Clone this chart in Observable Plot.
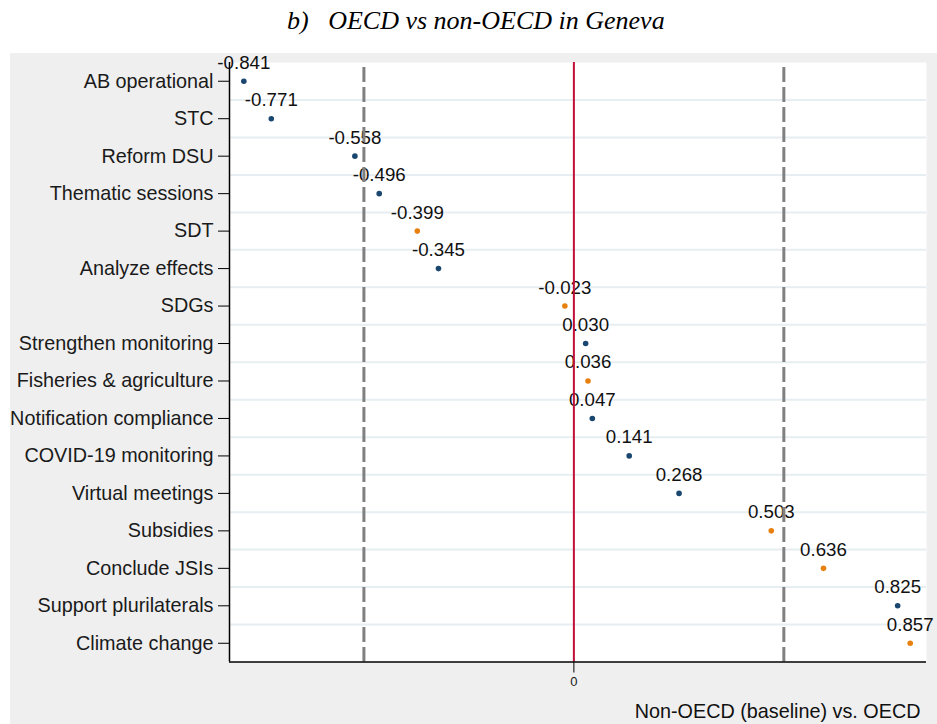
<!DOCTYPE html>
<html>
<head>
<meta charset="utf-8">
<script src="https://cdn.jsdelivr.net/npm/d3@7"></script>
<script src="https://cdn.jsdelivr.net/npm/@observablehq/plot@0.6"></script>
<style>
  html, body { margin: 0; padding: 0; background: #ffffff; }
  #wrap { position: relative; width: 937px; height: 724px; overflow: hidden; }
  #title { position: absolute; left: 287px; top: 8px; font-family: "Liberation Serif", "Times New Roman", serif; font-style: italic; font-size: 26px; line-height: 26px; white-space: pre; color: #000; }
  #chart { position: absolute; left: 10px; top: 53px; }
</style>
</head>
<body>
<div id="wrap">
  <div id="title">b)   OECD vs non-OECD in Geneva</div>
  <div id="chart"></div>
</div>
<script>
const categories = [
  "AB operational", "STC", "Reform DSU", "Thematic sessions", "SDT",
  "Analyze effects", "SDGs", "Strengthen monitoring", "Fisheries & agriculture",
  "Notification compliance", "COVID-19 monitoring", "Virtual meetings",
  "Subsidies", "Conclude JSIs", "Support plurilaterals", "Climate change"
];
const values = [-0.841, -0.771, -0.558, -0.496, -0.399, -0.345, -0.023, 0.030,
  0.036, 0.047, 0.141, 0.268, 0.503, 0.636, 0.825, 0.857];
const groups = ["A", "A", "A", "A", "B", "A", "B", "A", "B", "A", "A", "A", "B", "B", "A", "B"];
const thresholds = [-0.535, 0.535];
const zeroLine = [0];
const xTicks = [0];
const xTitle = "Non-OECD (baseline) vs. OECD";

const rows = categories.map((c, i) => ({cat: c, idx: i, value: values[i], group: groups[i]}));
const xMin = -0.8775, xMax = 0.8985;
const yMin = -0.5, yMax = categories.length - 0.5;
const gridPos = d3.range(0.5, categories.length - 1, 1);
const fmt = v => v.toFixed(3);

const chart = Plot.plot({
  width: 927,
  height: 671,
  marginLeft: 219,
  marginRight: 11,
  marginTop: 9,
  marginBottom: 62.5,
  style: {
    fontFamily: "'Liberation Sans', Arial, sans-serif",
    background: "#efefef",
    color: "#1a1a1a",
    overflow: "visible"
  },
  x: {domain: [xMin, xMax]},
  y: {domain: [yMin, yMax], reverse: true},
  color: {domain: ["A", "B"], range: ["#1a476f", "#e8800f"]},
  marks: [
    Plot.frame({fill: "white", stroke: "none"}),
    Plot.ruleY(gridPos, {stroke: "#e7eef1", strokeWidth: 2}),
    Plot.axisY(d3.range(categories.length), {
      tickFormat: i => categories[i], tickSize: 11, tickPadding: 5,
      fontSize: 19.8, label: null, stroke: "#000"
    }),
    Plot.axisX(xTicks, {
      tickFormat: d => String(d), tickSize: 11, tickPadding: 4,
      fontSize: 13, label: null, stroke: "#000"
    }),
    Plot.dot(rows, {x: "value", y: "idx", r: 2.8, fill: "group", stroke: "none"}),
    Plot.text(rows, {
      x: "value", y: "idx", text: d => fmt(d.value),
      lineAnchor: "bottom", dy: -12.5, fontSize: 18.7, fill: "#111"
    }),
    Plot.ruleX(zeroLine, {stroke: "#c10f3a", strokeWidth: 2}),
    Plot.ruleX(thresholds, {stroke: "#808080", strokeWidth: 3, strokeDasharray: "15,5", strokeDashoffset: -5}),
    Plot.ruleX([xMin], {stroke: "#000", strokeWidth: 1.5}),
    Plot.ruleY([yMax], {stroke: "#000", strokeWidth: 1.5}),
    Plot.text([xTitle], {
      frameAnchor: "bottom-right", textAnchor: "end", lineAnchor: "bottom",
      dx: -6, dy: 55.5, fontSize: 19.8, fill: "#111"
    })
  ]
});
document.getElementById("chart").appendChild(chart);
</script>
</body>
</html>
